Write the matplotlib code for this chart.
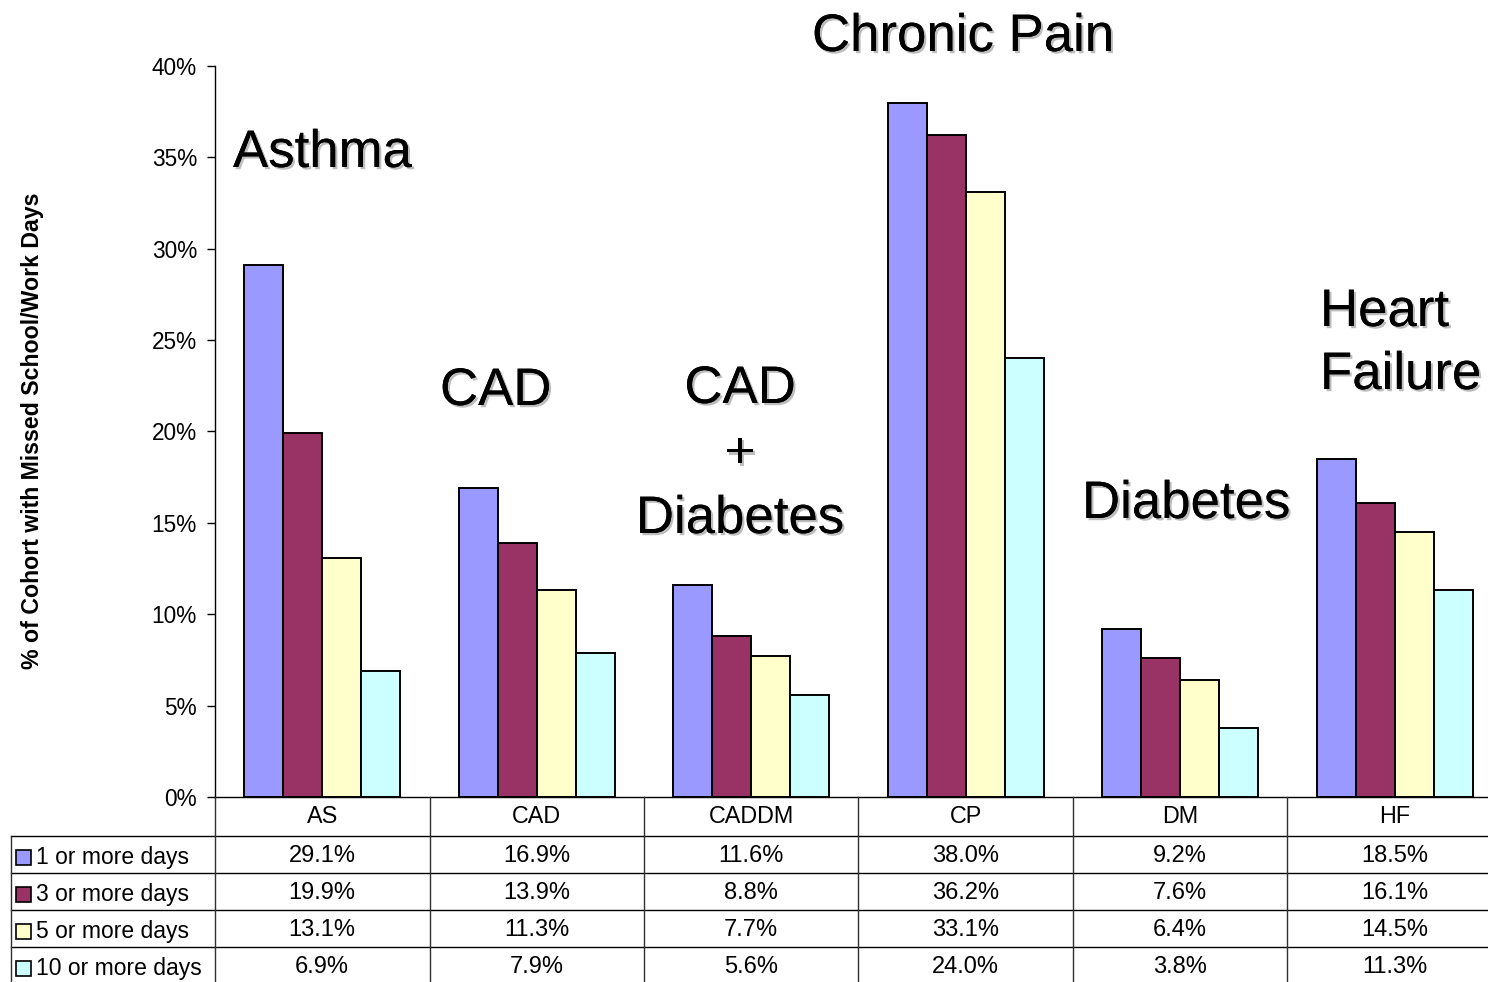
import matplotlib
matplotlib.use("Agg")
import matplotlib.pyplot as plt
import matplotlib.patheffects as pe
from matplotlib.lines import Line2D
from matplotlib.patches import Rectangle
import matplotlib.transforms as mtransforms
import numpy as np

# ---- data -------------------------------------------------------------
categories = ["AS", "CAD", "CADDM", "CP", "DM", "HF"]
series_names = ["1 or more days", "3 or more days", "5 or more days", "10 or more days"]
one_plus = [29.1, 16.9, 11.6, 38.0, 9.2, 18.5]
three_plus = [19.9, 13.9, 8.8, 36.2, 7.6, 16.1]
five_plus = [13.1, 11.3, 7.7, 33.1, 6.4, 14.5]
ten_plus = [6.9, 7.9, 5.6, 24.0, 3.8, 11.3]
y_ticks = [0, 5, 10, 15, 20, 25, 30, 35, 40]
ylabel = "% of Cohort with Missed School/Work Days"

series_values = [one_plus, three_plus, five_plus, ten_plus]
colors = ["#9999FF", "#993366", "#FFFFCC", "#CCFFFF"]

plt.rcParams["font.family"] = ["Liberation Sans", "DejaVu Sans"]

W, H = 1488, 982
fig = plt.figure(figsize=(W / 100, H / 100), dpi=100)


def fx(px):
    return px / W


def fy(py):
    return 1 - py / H


# plot area (extends a little past the right edge, as in the original sheet)
ax_left, ax_right, ax_top, ax_bottom = 215, 1502, 66, 797
ax = fig.add_axes([fx(ax_left), fy(ax_bottom), fx(ax_right - ax_left), (ax_bottom - ax_top) / H])

n_series = len(series_values)
bar_w = 0.182
x = np.arange(len(categories))
for i, (vals, col) in enumerate(zip(series_values, colors)):
    ax.bar(x + (i - (n_series - 1) / 2) * bar_w, vals, width=bar_w, color=col,
           edgecolor="black", linewidth=1.4, zorder=3)

ax.set_xlim(-0.5, len(categories) - 0.5)
ax.set_ylim(0, 40)
ax.set_yticks(y_ticks)
ax.set_yticklabels([f"{t}%" for t in y_ticks], fontsize=16.3)
ax.tick_params(axis="y", direction="out", length=6, width=1, pad=7)
ax.tick_params(axis="x", bottom=False, labelbottom=False)
for s in ("top", "right"):
    ax.spines[s].set_visible(False)
ax.spines["left"].set_linewidth(1)
ax.spines["bottom"].set_linewidth(1)
ax.patch.set_alpha(0)

fig.text(fx(33), fy(431), ylabel, rotation=90, ha="center", va="center",
         fontsize=16.7, fontweight="bold")

# ---- data table below the bars ----------------------------------------
blend = mtransforms.blended_transform_factory(ax.transData, fig.transFigure)
row_edges = [797, 836, 873, 910, 947, 984]
legend_left = 11
line_kw = dict(color="black", linewidth=1)

# horizontal rules
for yy in row_edges[1:]:
    fig.add_artist(Line2D([fx(legend_left), 1.0], [fy(yy), fy(yy)],
                          transform=fig.transFigure, **line_kw))
# category column boundaries
for b in np.arange(len(categories) + 1) - 0.5:
    fig.add_artist(Line2D([b, b], [fy(row_edges[0]), fy(row_edges[-1])],
                          transform=blend, color="#303030", linewidth=1))
# left border of the legend column
fig.add_artist(Line2D([fx(legend_left), fx(legend_left)], [fy(row_edges[1]), fy(row_edges[-1])],
                      transform=fig.transFigure, color="#303030", linewidth=1))

# category header row
hdr_mid = (row_edges[0] + row_edges[1]) / 2
for xi, cat in zip(x, categories):
    fig.text(xi, fy(hdr_mid), cat, transform=blend, ha="center", va="center", fontsize=16.8)

# value rows with legend keys
for r, (name, vals, col) in enumerate(zip(series_names, series_values, colors)):
    top, bot = row_edges[r + 1], row_edges[r + 2]
    mid = (top + bot) / 2
    key = Rectangle((fx(16), fy(mid + 3 + 7.5)), fx(15), 15 / H, transform=fig.transFigure,
                    facecolor=col, edgecolor="black", linewidth=1.2)
    fig.add_artist(key)
    fig.text(fx(36), fy(mid + 3), name, ha="left", va="center", fontsize=16.5)
    for xi, v in zip(x, vals):
        fig.text(xi, fy(mid + 1.5), f"{v:.1f}%", transform=blend, ha="center", va="center",
                 fontsize=17)

# ---- condition labels with drop shadow --------------------------------
shadow = [pe.withSimplePatchShadow(offset=(1.6, -1.6), shadow_rgbFace="#888888", alpha=0.55),
          pe.Normal()]
big = dict(fontsize=38, path_effects=shadow, va="baseline")

fig.text(fx(233), fy(167), "Asthma", ha="left", **big)
fig.text(fx(440), fy(405), "CAD", ha="left", **big)
fig.text(fx(740), fy(403), "CAD", ha="center", **big)
fig.text(fx(740), fy(468), "+", ha="center", **big)
fig.text(fx(740), fy(533), "Diabetes", ha="center", **big)
fig.text(fx(812), fy(51), "Chronic Pain", ha="left", **big)
fig.text(fx(1082), fy(518), "Diabetes", ha="left", **big)
fig.text(fx(1320), fy(326), "Heart", ha="left", **big)
fig.text(fx(1320), fy(389), "Failure", ha="left", **big)

fig.savefig("out.png", dpi=100)
